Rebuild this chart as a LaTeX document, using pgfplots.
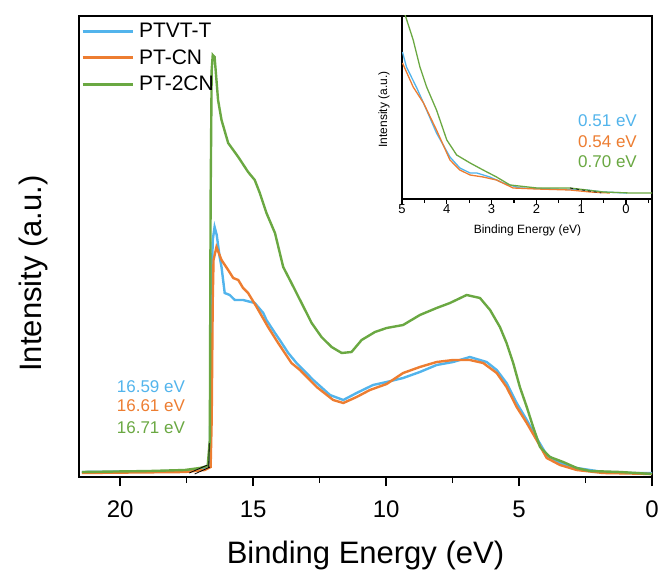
\documentclass[border=0pt]{standalone}
\usepackage{pgfplots}
\pgfplotsset{compat=1.18}
\usepackage{fontspec}
\setmainfont{Liberation Sans}
\definecolor{cblue}{HTML}{52B4EC}
\definecolor{corange}{HTML}{ED7D31}
\definecolor{cgreen}{HTML}{6AA842}

\pgfplotstableread{
E I
21.44 5
18.89 6
17.57 7
17.01 9
16.71 11
16.63 37
16.60 277
16.56 407
16.52 422
16.45 420
16.32 377
16.19 357
15.94 334
15.56 320
15.19 305
14.94 297
14.75 284
14.50 264
14.18 244
13.87 210
13.56 194
13.18 174
12.80 154
12.43 140
12.05 130
11.67 124
11.30 125
10.92 137
10.42 145
9.98 149
9.36 152
8.73 162
8.10 169
7.60 174
6.97 182
6.47 179
6.09 167
5.72 150
5.47 134
5.22 114
4.97 90
4.71 70
4.47 50
4.21 30
3.84 20
3.34 15
2.83 9
2.33 6
1.20 5
0.58 4
0.01 3
}\greenmain

\pgfplotstableread{
E I
21.44 5
17.57 6
16.82 8
16.63 11
16.57 177
16.52 237
16.45 250
16.37 242
16.26 220
16.19 210
16.07 184
15.88 182
15.69 177
15.38 177
14.94 174
14.62 164
14.50 157
14.18 144
14.00 137
13.68 124
13.37 114
12.74 97
12.11 82
11.61 77
11.11 84
10.49 92
9.98 95
9.36 99
8.73 105
8.10 112
7.48 115
6.85 120
6.22 115
5.84 107
5.47 94
5.09 74
4.71 57
4.34 39
3.96 22
3.46 14
2.83 9
1.84 5
0.83 4
0.00 4
}\bluemain

\pgfplotstableread{
E I
21.44 4
17.57 5
16.82 7
16.60 10
16.56 57
16.52 177
16.49 217
16.38 230
16.19 217
15.94 207
15.75 199
15.56 197
15.38 189
15.19 184
14.87 170
14.44 150
14.06 134
13.56 114
13.24 107
12.61 90
11.99 77
11.61 74
11.11 80
10.61 87
9.98 93
9.36 104
8.73 110
8.10 115
7.48 117
6.85 117
6.35 114
5.84 104
5.47 90
5.09 70
4.71 54
4.34 37
3.96 19
3.46 12
2.83 7
1.84 4
0.83 3.5
0.00 3
}\orangemain

\pgfplotstableread{
E I
5.00 195
4.93 184
4.75 159
4.60 132
4.45 112
4.23 89
4.00 59
3.78 44
3.48 36
3.19 29
2.89 22
2.59 14
1.99 11
1.25 11
0.88 9
0.51 7
-0.09 6
-0.60 6
}\greenin

\pgfplotstableread{
E I
4.99 147
4.90 132
4.67 111
4.52 96
4.23 66
3.93 42
3.71 31
3.48 26
3.33 26
3.04 22
2.74 16
2.37 11
1.62 10
0.88 9
0.51 7
-0.02 6
}\bluein

\pgfplotstableread{
E I
4.99 136
4.75 112
4.52 96
4.23 69
3.93 39
3.71 29
3.48 24
3.19 22
2.89 19
2.52 11
1.99 10
1.25 9
0.80 7
0.36 6
}\orangein

\begin{document}
\begin{tikzpicture}[x=1pt,y=1pt]
\path[use as bounding box] (0,0) rectangle (660,570);
\begin{axis}[
  at={(79pt,93pt)}, anchor=south west,
  scale only axis, width=573pt, height=461pt,
  xmin=0, xmax=21.55, x dir=reverse,
  ymin=0, ymax=461,
  ytick=\empty,
  xtick={0,5,10,15,20},
  minor xtick={2.5,7.5,12.5,17.5},
  xtick pos=bottom, tick align=outside,
  axis line style={line width=2.2pt},
  every axis/.append style={line width=2.2pt},
  major tick style={black, line width=1.6pt},
  minor tick style={black, line width=1.6pt},
  major tick length=9pt, minor tick length=6pt,
  xticklabel style={font=\fontsize{24}{24}\selectfont, anchor=base, yshift=-31pt},
  /pgf/number format/assume math mode=true,
  legend style={at={(axis description cs:0,1)}, anchor=north west, draw=none, fill=none,
    font=\fontsize{21}{21}\selectfont, inner xsep=1pt, inner ysep=4pt, row sep=6.5pt,
    /tikz/every odd column/.append style={column sep=3pt}},
  legend cell align=left,
  legend image code/.code={\draw[#1, line width=3pt] (0pt,0pt) -- (50pt,0pt);},
]
\addplot[cblue, line width=2.4pt] table[x=E,y=I] {\bluemain};
\addlegendentry{PTVT-T}
\addplot[corange, line width=2.4pt] table[x=E,y=I] {\orangemain};
\addlegendentry{PT-CN}
\addplot[cgreen, line width=2.4pt] table[x=E,y=I] {\greenmain};
\addlegendentry{PT-2CN}
\addplot[black, line width=0.8pt, forget plot] coordinates {(17.40,4) (16.72,12)};
\addplot[black, line width=0.8pt, forget plot] coordinates {(17.20,3) (16.62,10)};
\addplot[black, line width=0.8pt, forget plot] coordinates {(16.67,9) (16.65,34)};
\end{axis}

\begin{axis}[
  at={(402pt,371pt)}, anchor=south west,
  scale only axis, width=250pt, height=183pt,
  xmin=-0.58, xmax=5, x dir=reverse,
  ymin=0, ymax=183,
  ytick=\empty,
  xtick={0,1,2,3,4,5},
  minor xtick={-0.5,0.5,1.5,2.5,3.5,4.5},
  xtick pos=bottom, tick align=outside,
  axis line style={line width=1.5pt},
  every axis/.append style={line width=1.5pt},
  major tick style={black, line width=1.1pt},
  minor tick style={black, line width=1.1pt},
  major tick length=5pt, minor tick length=4pt,
  xticklabel style={font=\fontsize{13}{13}\selectfont, anchor=base, yshift=-10pt},
  /pgf/number format/assume math mode=true,
  axis background/.style={fill=white},
]
\addplot[cblue, line width=1.3pt] table[x=E,y=I] {\bluein};
\addplot[corange, line width=1.3pt] table[x=E,y=I] {\orangein};
\addplot[cgreen, line width=1.3pt] table[x=E,y=I] {\greenin};
\addplot[black, line width=0.7pt, dashed] coordinates {(1.25,11) (0.55,6)};
\end{axis}

% axis titles
\node[anchor=base, font=\fontsize{31}{31}\selectfont] at (365.5,7) {Binding Energy (eV)};
\node[anchor=base, rotate=90, font=\fontsize{31}{31}\selectfont] at (41,296.5) {Intensity (a.u.)};
\node[anchor=base, font=\fontsize{12}{12}\selectfont] at (527.5,336) {Binding Energy (eV)};
\node[anchor=base, rotate=90, font=\fontsize{12}{12}\selectfont] at (387,460.5) {Intensity (a.u.)};

% annotations
\node[anchor=base west, inner sep=0pt, font=\fontsize{17}{17}\selectfont, text=cblue] at (116.7,178) {16.59 eV};
\node[anchor=base west, inner sep=0pt, font=\fontsize{17}{17}\selectfont, text=corange] at (116.7,158) {16.61 eV};
\node[anchor=base west, inner sep=0pt, font=\fontsize{17}{17}\selectfont, text=cgreen] at (116.7,137) {16.71 eV};
\node[anchor=base west, inner sep=0pt, font=\fontsize{17}{17}\selectfont, text=cblue] at (578,443) {0.51 eV};
\node[anchor=base west, inner sep=0pt, font=\fontsize{17}{17}\selectfont, text=corange] at (578,422) {0.54 eV};
\node[anchor=base west, inner sep=0pt, font=\fontsize{17}{17}\selectfont, text=cgreen] at (578,402) {0.70 eV};
\end{tikzpicture}
\end{document}
